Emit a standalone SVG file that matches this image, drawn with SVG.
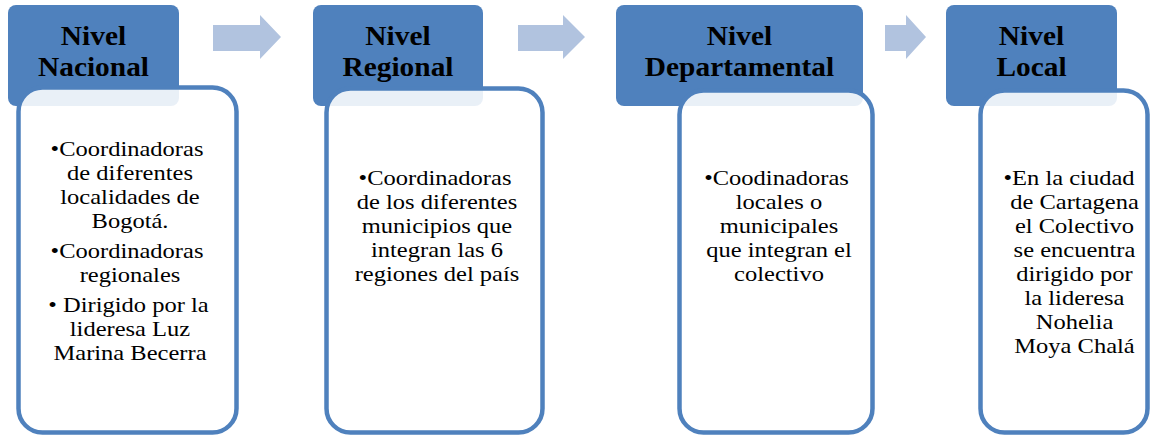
<svg xmlns="http://www.w3.org/2000/svg" width="1151" height="437" viewBox="0 0 1151 437">
<style>
.hdr{fill:#4F81BD}
.body{fill:#FFFFFF;fill-opacity:0.88;stroke:#4F81BD;stroke-width:4.5}
.arrow{fill:#B1C3DF}
.ht{font-family:"Liberation Serif","Times New Roman",serif;font-weight:bold;font-size:28px;fill:#000;text-anchor:middle}
.bt{font-family:"Liberation Serif","Times New Roman",serif;font-size:21.5px;fill:#000;text-anchor:middle}
</style>
<rect width="1151" height="437" fill="#FFFFFF"/>
<g id="connectors">
<polygon class="arrow" points="213,25 260,25 260,15 281,37 260,59 260,51 213,51"/>
<polygon class="arrow" points="518,25 563,25 563,15 585,37 563,59 563,51 518,51"/>
<polygon class="arrow" points="885,25 906,25 906,15 926,37 906,59 906,51 885,51"/>
</g>
<g id="nacional">
<rect class="hdr" x="8" y="5" width="171" height="101" rx="8"/>
<rect class="body" x="18.5" y="87.5" width="218" height="345" rx="24"/>
<text class="ht" transform="translate(93.5,45) scale(1.05,1)">Nivel</text>
<text class="ht" transform="translate(93.5,76) scale(1.05,1)">Nacional</text>
<g class="bt">
<text transform="translate(127,156) scale(1.14,1)">•Coordinadoras</text>
<text transform="translate(130,180) scale(1.14,1)">de diferentes</text>
<text transform="translate(130,204) scale(1.14,1)">localidades de</text>
<text transform="translate(130,228) scale(1.14,1)">Bogotá.</text>
<text transform="translate(127,258) scale(1.14,1)">•Coordinadoras</text>
<text transform="translate(130,282) scale(1.14,1)">regionales</text>
<text transform="translate(128.5,312) scale(1.14,1)">• Dirigido por la</text>
<text transform="translate(130,336) scale(1.14,1)">lideresa Luz</text>
<text transform="translate(130,360) scale(1.14,1)">Marina Becerra</text>
</g>
</g>
<g id="regional">
<rect class="hdr" x="313" y="5" width="170" height="101" rx="8"/>
<rect class="body" x="326.5" y="88.5" width="216" height="344" rx="24"/>
<text class="ht" transform="translate(398,45) scale(1.05,1)">Nivel</text>
<text class="ht" transform="translate(398,76) scale(1.05,1)">Regional</text>
<g class="bt">
<text transform="translate(435,185) scale(1.14,1)">•Coordinadoras</text>
<text transform="translate(437,209) scale(1.14,1)">de los diferentes</text>
<text transform="translate(437,233) scale(1.14,1)">municipios que</text>
<text transform="translate(437,257) scale(1.14,1)">integran las 6</text>
<text transform="translate(437,281) scale(1.14,1)">regiones del país</text>
</g>
</g>
<g id="departamental">
<rect class="hdr" x="616" y="5" width="247" height="101" rx="8"/>
<rect class="body" x="679.5" y="90.5" width="193" height="342" rx="24"/>
<text class="ht" transform="translate(739.5,45) scale(1.05,1)">Nivel</text>
<text class="ht" transform="translate(739.5,76) scale(1.05,1)">Departamental</text>
<g class="bt">
<text transform="translate(776.5,185) scale(1.14,1)">•Coodinadoras</text>
<text transform="translate(779,209) scale(1.14,1)">locales o</text>
<text transform="translate(779,233) scale(1.14,1)">municipales</text>
<text transform="translate(779,257) scale(1.14,1)">que integran el</text>
<text transform="translate(779,281) scale(1.14,1)">colectivo</text>
</g>
</g>
<g id="local">
<rect class="hdr" x="946" y="5" width="171" height="101" rx="8"/>
<rect class="body" x="980.5" y="90.5" width="167" height="342" rx="24"/>
<text class="ht" transform="translate(1031.5,45) scale(1.05,1)">Nivel</text>
<text class="ht" transform="translate(1031.5,76) scale(1.05,1)">Local</text>
<g class="bt">
<text transform="translate(1069,185) scale(1.14,1)">•En la ciudad</text>
<text transform="translate(1074.5,209) scale(1.14,1)">de Cartagena</text>
<text transform="translate(1074.5,233) scale(1.14,1)">el Colectivo</text>
<text transform="translate(1074.5,257) scale(1.14,1)">se encuentra</text>
<text transform="translate(1074.5,281) scale(1.14,1)">dirigido por</text>
<text transform="translate(1074.5,305) scale(1.14,1)">la lideresa</text>
<text transform="translate(1074.5,329) scale(1.14,1)">Nohelia</text>
<text transform="translate(1074.5,353) scale(1.14,1)">Moya Chalá</text>
</g>
</g>
</svg>
